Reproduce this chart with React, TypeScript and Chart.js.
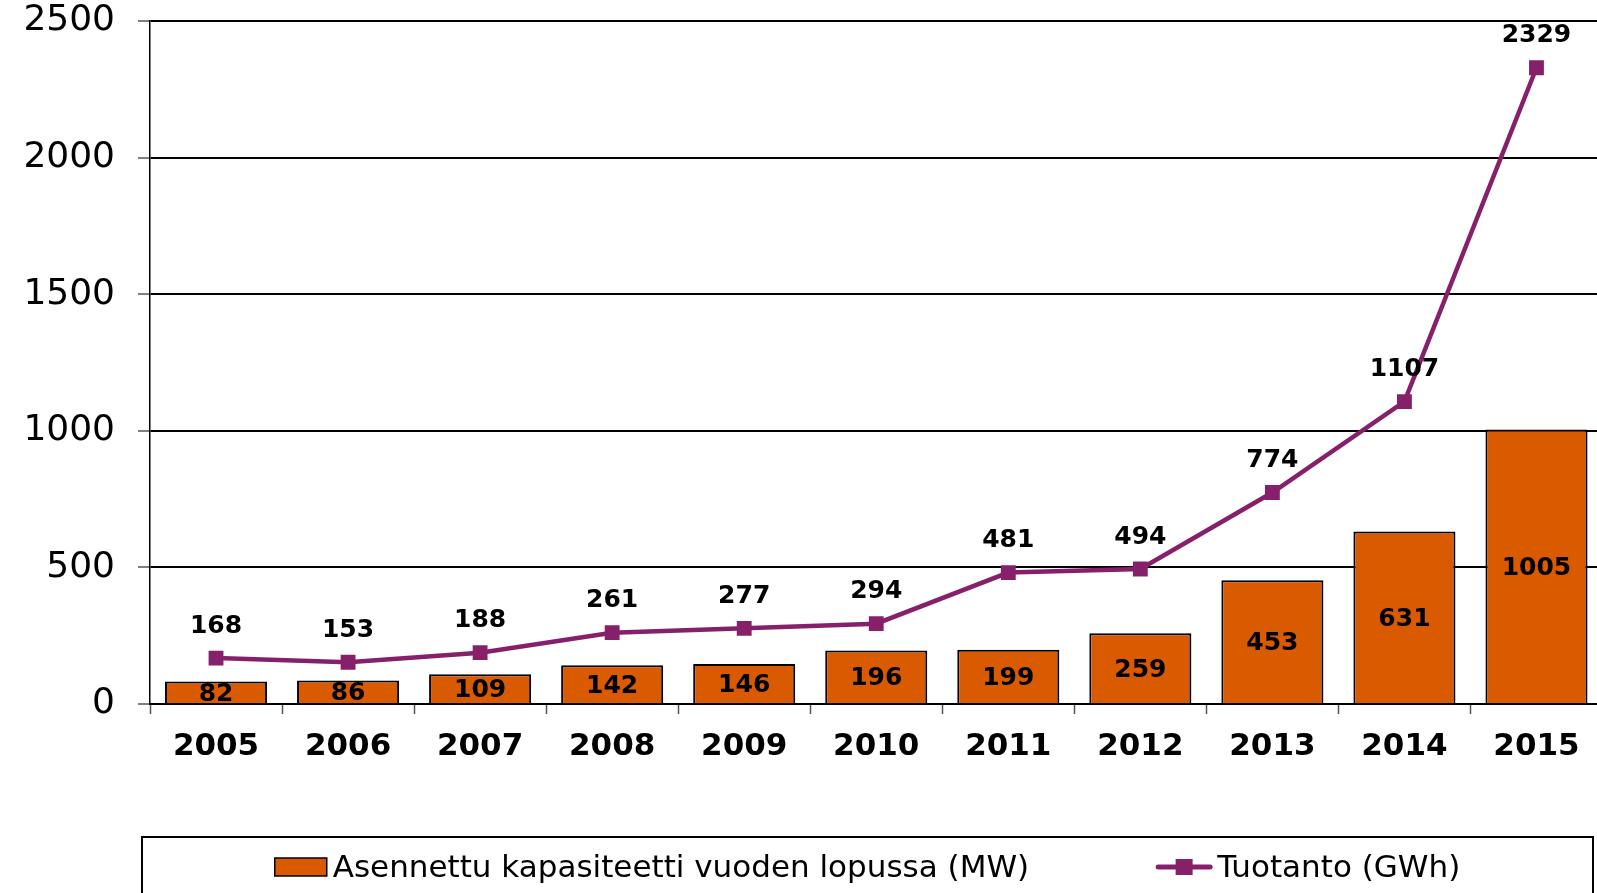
import React, { useEffect, useRef } from "react";
import { Chart, registerables } from "chart.js";

Chart.register(...registerables);

const years = ["2005", "2006", "2007", "2008", "2009", "2010", "2011", "2012", "2013", "2014", "2015"];
const capacityMW = [82, 86, 109, 142, 146, 196, 199, 259, 453, 631, 1005];
const productionGWh = [168, 153, 188, 261, 277, 294, 481, 494, 774, 1107, 2329];
const capacityLabel = "Asennettu kapasiteetti vuoden lopussa (MW)";
const productionLabel = "Tuotanto (GWh)";

const FONT = "'DejaVu Sans', Verdana, sans-serif";
const BAR_COLOR = "#DA5A00";
const LINE_COLOR = "#87206B";

const valueLabelsPlugin = {
  id: "valueLabels",
  afterDatasetsDraw(chart: any) {
    const ctx = chart.ctx;
    ctx.save();
    ctx.font = `bold 25px ${FONT}`;
    ctx.fillStyle = "#000";
    ctx.textAlign = "center";
    ctx.textBaseline = "middle";
    chart.data.datasets.forEach((ds: any, di: number) => {
      const meta = chart.getDatasetMeta(di);
      meta.data.forEach((el: any, i: number) => {
        const v = ds.data[i];
        if (ds.type === "bar") {
          ctx.fillText(String(v), el.x, (el.y + el.base) / 2 + 2);
        } else {
          ctx.fillText(String(v), el.x, el.y - 32);
        }
      });
    });
    ctx.restore();
  },
};

const boxLegendPlugin = {
  id: "boxLegend",
  afterDraw(chart: any) {
    const ctx = chart.ctx;
    const boxLeft = 142;
    const boxTop = 837;
    const boxRight = 1593;
    ctx.save();
    ctx.lineWidth = 2;
    ctx.strokeStyle = "#000";
    ctx.strokeRect(boxLeft, boxTop, boxRight - boxLeft, 120);

    ctx.font = `31px ${FONT}`;
    const ds0 = chart.data.datasets[0];
    const ds1 = chart.data.datasets[1];
    const t0 = ctx.measureText(ds0.label).width;
    const t1 = ctx.measureText(ds1.label).width;
    const w0 = 52 + 6 + t0;
    const w1 = 56 + 5 + t1;
    const gap = 127;
    const total = w0 + gap + w1;
    const cx = (boxLeft + boxRight) / 2;
    let x = cx - total / 2;
    const cy = 867;

    ctx.fillStyle = ds0.backgroundColor;
    ctx.fillRect(x, cy - 9, 52, 18);
    ctx.lineWidth = 1.5;
    ctx.strokeStyle = "#000";
    ctx.strokeRect(x, cy - 9, 52, 18);
    ctx.fillStyle = "#000";
    ctx.textAlign = "left";
    ctx.textBaseline = "middle";
    ctx.fillText(ds0.label, x + 58, cy + 2);

    x += w0 + gap;
    ctx.strokeStyle = ds1.borderColor;
    ctx.lineWidth = 5;
    ctx.lineCap = "round";
    ctx.beginPath();
    ctx.moveTo(x + 2, cy);
    ctx.lineTo(x + 54, cy);
    ctx.stroke();
    ctx.fillStyle = ds1.borderColor;
    ctx.fillRect(x + 28 - 8.5, cy - 8, 17, 16);
    ctx.fillStyle = "#000";
    ctx.fillText(ds1.label, x + 61, cy + 2);
    ctx.restore();
  },
};

export default function App() {
  const canvasRef = useRef<HTMLCanvasElement | null>(null);

  useEffect(() => {
    const canvas = canvasRef.current;
    if (!canvas) return;
    Chart.defaults.font.family = FONT;
    Chart.defaults.color = "#000";
    const chart = new Chart(canvas, {
      type: "bar",
      data: {
        labels: years,
        datasets: [
          {
            type: "bar",
            label: capacityLabel,
            data: capacityMW,
            backgroundColor: BAR_COLOR,
            borderColor: "#000",
            borderWidth: 2,
            categoryPercentage: 0.773,
            barPercentage: 1,
            order: 1,
          } as any,
          {
            type: "line",
            label: productionLabel,
            data: productionGWh,
            borderColor: LINE_COLOR,
            backgroundColor: LINE_COLOR,
            borderWidth: 4.5,
            pointStyle: "rect",
            pointRadius: 10.5,
            pointBorderWidth: 0,
            pointBackgroundColor: LINE_COLOR,
            tension: 0,
            order: 0,
          } as any,
        ],
      },
      options: {
        responsive: false,
        animation: false,
        events: [],
        layout: { padding: { top: 0, bottom: 129, left: 0, right: 0 } },
        plugins: {
          legend: { display: false },
          tooltip: { enabled: false },
          title: { display: false },
        },
        scales: {
          x: {
            offset: true,
            grid: {
              offset: true,
              drawOnChartArea: false,
              drawTicks: true,
              tickLength: 10,
              tickColor: "#555",
              tickWidth: 1.5,
            },
            border: { color: "#000", width: 2 },
            ticks: {
              font: { size: 31, weight: "bold" },
              color: "#000",
              padding: 14,
              maxRotation: 0,
              autoSkip: false,
            },
            afterFit: (scale: any) => {
              scale.height = 60;
            },
          },
          y: {
            min: 0,
            max: 2500,
            ticks: {
              stepSize: 500,
              font: { size: 36 },
              color: "#000",
              padding: 23,
              callback: (v: any) => String(v),
            },
            grid: {
              color: "#000",
              lineWidth: 2,
              tickLength: 12,
              tickColor: "#555",
              tickWidth: 1.5,
            },
            border: { color: "#000", width: 1.5 },
            afterFit: (scale: any) => {
              scale.width = 150;
              scale.paddingTop = 21;
              scale.paddingBottom = 0;
            },
          },
        },
      },
      plugins: [valueLabelsPlugin, boxLegendPlugin],
    });
    return () => chart.destroy();
  }, []);

  return (
    <div
      style={{
        position: "fixed",
        left: 0,
        top: 0,
        width: 1597,
        height: 893,
        overflow: "hidden",
        background: "#fff",
      }}
    >
      <canvas ref={canvasRef} width={1613} height={893} style={{ display: "block" }} />
    </div>
  );
}
